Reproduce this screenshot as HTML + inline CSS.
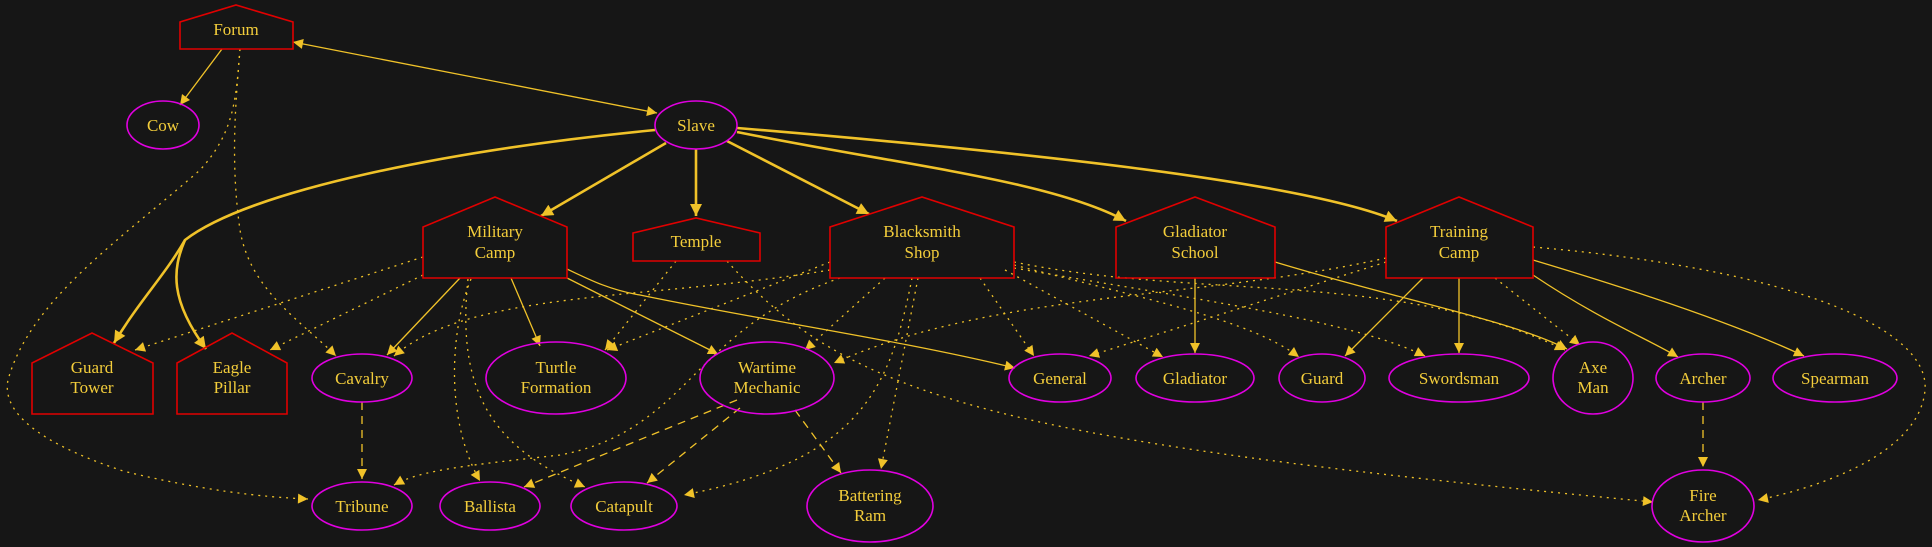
<!DOCTYPE html>
<html><head><meta charset="utf-8"><style>
html,body{margin:0;padding:0;background:#161616;}
svg{display:block;}
text{font-family:"Liberation Serif",serif;font-size:17px;fill:#f3cd3b;text-anchor:middle;}
.e{fill:none;stroke:#f0c229;stroke-width:1.3;}
.t{stroke-width:2.6;}
.d{stroke-dasharray:2,5;}
.s{stroke-dasharray:8,6;}
.h{fill:none;stroke:#e00000;stroke-width:1.6;}
.o{fill:none;stroke:#e000e0;stroke-width:1.6;}
</style></head><body>
<svg width="1932" height="547" viewBox="0 0 1932 547" xmlns="http://www.w3.org/2000/svg">
<defs>
<marker id="a" viewBox="0 0 10 10" refX="10" refY="5" markerWidth="12" markerHeight="10" markerUnits="userSpaceOnUse" orient="auto"><path d="M0,0L10,5L0,10z" fill="#f0c229"/></marker>
<marker id="b" viewBox="0 0 10 10" refX="10" refY="5" markerWidth="15" markerHeight="12" markerUnits="userSpaceOnUse" orient="auto"><path d="M0,0L10,5L0,10z" fill="#f0c229"/></marker>
<marker id="r" viewBox="0 0 10 10" refX="0" refY="5" markerWidth="12" markerHeight="10" markerUnits="userSpaceOnUse" orient="auto"><path d="M10,0L0,5L10,10z" fill="#f0c229"/></marker>
</defs>
<rect width="1932" height="547" fill="#161616"/>
<!-- edges -->
<g>
<path class="e" d="M222,49L180,105" marker-end="url(#a)"/>
<path class="e" d="M293,42L657,113" marker-start="url(#r)" marker-end="url(#a)"/>
<path class="e d" d="M240,49C236,100 234,133 200,170C120,240 30,300 8,380C0,420 60,450 123,471C200,490 260,497 308,499" marker-end="url(#a)"/>
<path class="e d" d="M240,49C236,100 230,160 240,230C250,290 300,320 336,356" marker-end="url(#a)"/>
<path class="e t" d="M655,130C450,150 250,190 185,240C165,275 140,300 114,343" marker-end="url(#b)"/>
<path class="e t" d="M185,240C172,270 170,300 206,349" marker-end="url(#b)"/>
<path class="e t" d="M666,143L541,216" marker-end="url(#b)"/>
<path class="e t" d="M696,149L696,216" marker-end="url(#b)"/>
<path class="e t" d="M727,141L869,214" marker-end="url(#b)"/>
<path class="e t" d="M737,132C900,165 1050,180 1126,221" marker-end="url(#b)"/>
<path class="e t" d="M737,128C1000,150 1300,180 1397,221" marker-end="url(#b)"/>
<!-- military camp -->
<path class="e" d="M460,278L387,355" marker-end="url(#a)"/>
<path class="e" d="M511,278L540,346" marker-end="url(#a)"/>
<path class="e" d="M567,278L718,354" marker-end="url(#a)"/>
<path class="e" d="M567,269C590,280 610,290 640,295C760,320 900,340 1015,368" marker-end="url(#a)"/>
<path class="e d" d="M423,257L135,350" marker-end="url(#a)"/>
<path class="e d" d="M423,275L270,350" marker-end="url(#a)"/>
<path class="e d" d="M471,279C450,330 445,420 480,481" marker-end="url(#a)"/>
<path class="e d" d="M468,279C455,400 500,450 585,487" marker-end="url(#a)"/>
<!-- temple -->
<path class="e d" d="M676,261L605,350" marker-end="url(#a)"/>
<path class="e d" d="M727,261C850,400 1000,440 1653,502" marker-end="url(#a)"/>
<!-- blacksmith -->
<path class="e d" d="M830,270C650,300 470,290 394,356" marker-end="url(#a)"/>
<path class="e d" d="M830,262L607,350" marker-end="url(#a)"/>
<path class="e d" d="M840,278C690,330 690,430 560,455C470,465 420,470 394,485" marker-end="url(#a)"/>
<path class="e d" d="M885,278L805,350" marker-end="url(#a)"/>
<path class="e d" d="M912,278C890,390 860,460 684,495" marker-end="url(#a)"/>
<path class="e d" d="M918,278L881,469" marker-end="url(#a)"/>
<path class="e d" d="M980,278L1034,356" marker-end="url(#a)"/>
<path class="e d" d="M1005,270L1163,357" marker-end="url(#a)"/>
<path class="e d" d="M1014,265C1150,300 1250,320 1299,357" marker-end="url(#a)"/>
<path class="e d" d="M1014,268C1200,300 1350,320 1425,356" marker-end="url(#a)"/>
<path class="e d" d="M1014,262C1200,300 1400,270 1565,350" marker-end="url(#a)"/>
<!-- gladiator school -->
<path class="e" d="M1195,278L1195,353" marker-end="url(#a)"/>
<path class="e" d="M1275,262C1400,300 1510,320 1567,349" marker-end="url(#a)"/>
<!-- training camp -->
<path class="e" d="M1423,278L1345,356" marker-end="url(#a)"/>
<path class="e" d="M1459,278L1459,353" marker-end="url(#a)"/>
<path class="e d" d="M1495,278L1580,345" marker-end="url(#a)"/>
<path class="e" d="M1533,275C1600,320 1650,340 1678,357" marker-end="url(#a)"/>
<path class="e" d="M1533,260C1700,310 1770,340 1804,356" marker-end="url(#a)"/>
<path class="e d" d="M1533,247C1800,270 1930,330 1925,390C1920,450 1830,485 1758,500" marker-end="url(#a)"/>
<path class="e d" d="M1386,262L1089,356" marker-end="url(#a)"/>
<path class="e d" d="M1386,258C1200,300 1000,290 834,363" marker-end="url(#a)"/>
<!-- dashed -->
<path class="e s" d="M362,402L362,479" marker-end="url(#a)"/>
<path class="e s" d="M737,400L524,487" marker-end="url(#a)"/>
<path class="e s" d="M740,408L647,483" marker-end="url(#a)"/>
<path class="e s" d="M795,410L841,473" marker-end="url(#a)"/>
<path class="e s" d="M1703,402L1703,467" marker-end="url(#a)"/>
</g>
<!-- house nodes -->
<g>
<path class="h" d="M180,49L180,22L236,5L293,22L293,49Z"/><text x="236" y="35">Forum</text>
<path class="h" d="M423,278L423,227L495,197L567,227L567,278Z"/><text x="495" y="237">Military</text><text x="495" y="258">Camp</text>
<path class="h" d="M633,261L633,233L696,218L760,233L760,261Z"/><text x="696" y="247">Temple</text>
<path class="h" d="M830,278L830,227L922,197L1014,227L1014,278Z"/><text x="922" y="237">Blacksmith</text><text x="922" y="258">Shop</text>
<path class="h" d="M1116,278L1116,227L1195,197L1275,227L1275,278Z"/><text x="1195" y="237">Gladiator</text><text x="1195" y="258">School</text>
<path class="h" d="M1386,278L1386,227L1459,197L1533,227L1533,278Z"/><text x="1459" y="237">Training</text><text x="1459" y="258">Camp</text>
<path class="h" d="M32,414L32,363L92,333L153,363L153,414Z"/><text x="92" y="373">Guard</text><text x="92" y="393">Tower</text>
<path class="h" d="M177,414L177,363L232,333L287,363L287,414Z"/><text x="232" y="373">Eagle</text><text x="232" y="393">Pillar</text>
</g>
<!-- ellipse nodes -->
<g>
<ellipse class="o" cx="163" cy="125" rx="36" ry="24"/><text x="163" y="131">Cow</text>
<ellipse class="o" cx="696" cy="125" rx="41" ry="24"/><text x="696" y="131">Slave</text>
<ellipse class="o" cx="362" cy="378" rx="50" ry="24"/><text x="362" y="384">Cavalry</text>
<ellipse class="o" cx="556" cy="378" rx="70" ry="36"/><text x="556" y="373">Turtle</text><text x="556" y="393">Formation</text>
<ellipse class="o" cx="767" cy="378" rx="67" ry="36"/><text x="767" y="373">Wartime</text><text x="767" y="393">Mechanic</text>
<ellipse class="o" cx="362" cy="506" rx="50" ry="24"/><text x="362" y="512">Tribune</text>
<ellipse class="o" cx="490" cy="506" rx="50" ry="24"/><text x="490" y="512">Ballista</text>
<ellipse class="o" cx="624" cy="506" rx="53" ry="24"/><text x="624" y="512">Catapult</text>
<ellipse class="o" cx="870" cy="506" rx="63" ry="36"/><text x="870" y="501">Battering</text><text x="870" y="521">Ram</text>
<ellipse class="o" cx="1060" cy="378" rx="51" ry="24"/><text x="1060" y="384">General</text>
<ellipse class="o" cx="1195" cy="378" rx="59" ry="24"/><text x="1195" y="384">Gladiator</text>
<ellipse class="o" cx="1322" cy="378" rx="43" ry="24"/><text x="1322" y="384">Guard</text>
<ellipse class="o" cx="1459" cy="378" rx="70" ry="24"/><text x="1459" y="384">Swordsman</text>
<ellipse class="o" cx="1593" cy="378" rx="40" ry="36"/><text x="1593" y="373">Axe</text><text x="1593" y="393">Man</text>
<ellipse class="o" cx="1703" cy="378" rx="47" ry="24"/><text x="1703" y="384">Archer</text>
<ellipse class="o" cx="1835" cy="378" rx="62" ry="24"/><text x="1835" y="384">Spearman</text>
<ellipse class="o" cx="1703" cy="506" rx="51" ry="36"/><text x="1703" y="501">Fire</text><text x="1703" y="521">Archer</text>
</g>
</svg>
</body></html>
